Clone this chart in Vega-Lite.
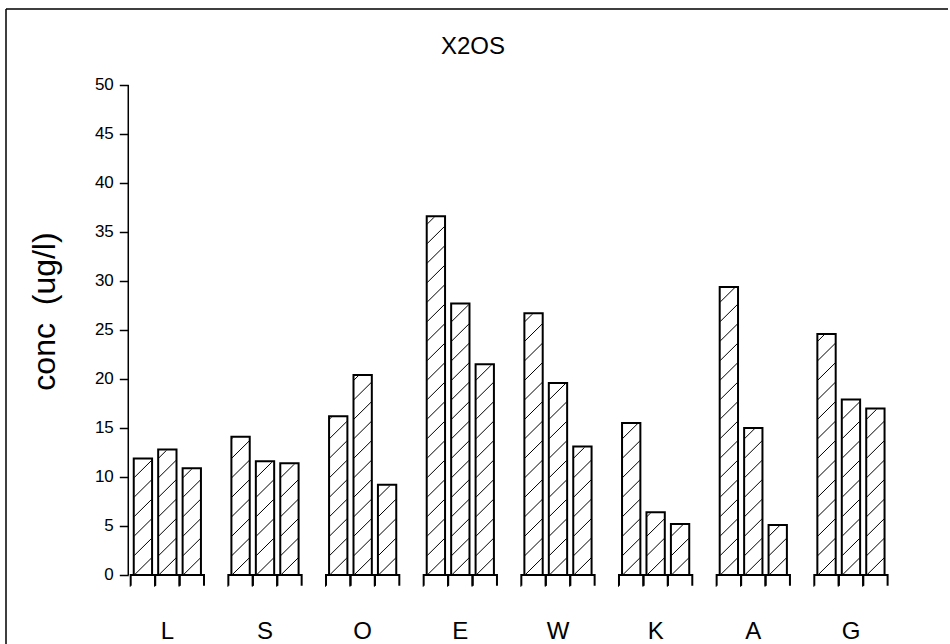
{
  "$schema": "https://vega.github.io/schema/vega-lite/v6.json",
  "width": 942,
  "height": 636,
  "autosize": {"type": "none"},
  "padding": {"left": 6, "top": 9, "right": 2, "bottom": 0},
  "background": "white",
  "title": {"text": "X2OS", "fontSize": 24, "font": "Liberation Sans", "fontWeight": "normal", "color": "black", "anchor": "middle", "frame": "group", "offset": -23, "baseline": "alphabetic", "dy": 46, "dx": -4},
  "data": {"values": [
    {"site": "L", "rep": 1, "conc": 11.9}, {"site": "L", "rep": 2, "conc": 12.8}, {"site": "L", "rep": 3, "conc": 10.9},
    {"site": "S", "rep": 1, "conc": 14.1}, {"site": "S", "rep": 2, "conc": 11.6}, {"site": "S", "rep": 3, "conc": 11.4},
    {"site": "O", "rep": 1, "conc": 16.2}, {"site": "O", "rep": 2, "conc": 20.4}, {"site": "O", "rep": 3, "conc": 9.2},
    {"site": "E", "rep": 1, "conc": 36.6}, {"site": "E", "rep": 2, "conc": 27.7}, {"site": "E", "rep": 3, "conc": 21.5},
    {"site": "W", "rep": 1, "conc": 26.7}, {"site": "W", "rep": 2, "conc": 19.6}, {"site": "W", "rep": 3, "conc": 13.1},
    {"site": "K", "rep": 1, "conc": 15.5}, {"site": "K", "rep": 2, "conc": 6.4}, {"site": "K", "rep": 3, "conc": 5.2},
    {"site": "A", "rep": 1, "conc": 29.4}, {"site": "A", "rep": 2, "conc": 15.0}, {"site": "A", "rep": 3, "conc": 5.1},
    {"site": "G", "rep": 1, "conc": 24.6}, {"site": "G", "rep": 2, "conc": 17.9}, {"site": "G", "rep": 3, "conc": 17.0}
  ]},
  "resolve": {"scale": {"xOffset": "independent"}},
  "layer": [
    {
      "mark": {"type": "point", "shape": "M-8.6,0L8.6,-17M-8.6,-19.5L8.6,-36.5M-8.6,-39L8.6,-56M-8.6,-58.5L8.6,-75.5M-8.6,-78L8.6,-95M-8.6,-97.5L8.6,-114.5M-8.6,-117L8.6,-134M-8.6,-136.5L8.6,-153.5M-8.6,-156L8.6,-173M-8.6,-175.5L8.6,-192.5M-8.6,-195L8.6,-212M-8.6,-214.5L8.6,-231.5M-8.6,-234L8.6,-251M-8.6,-253.5L8.6,-270.5M-8.6,-273L8.6,-290M-8.6,-292.5L8.6,-309.5M-8.6,-312L8.6,-329M-8.6,-331.5L8.6,-348.5M-8.6,-351L8.6,-368M-8.6,-370.5L8.6,-387.5", "size": 4, "filled": false, "stroke": "black", "strokeWidth": 1, "opacity": 1},
      "encoding": {
        "x": {"field": "site", "type": "nominal", "sort": ["L", "S", "O", "E", "W", "K", "A", "G"], "title": null,
              "scale": {"paddingInner": 0.2494, "paddingOuter": 0.9476, "align": 0.6737},
              "axis": {"domain": false, "ticks": false, "tickSize": 0, "labelPadding": 0, "offset": -7, "labelFontSize": 24, "labelColor": "black", "labelBaseline": "alphabetic", "labelAngle": 0, "grid": false, "labelFont": "Liberation Sans"}},
        "xOffset": {"field": "rep", "type": "nominal", "scale": {"type": "band", "paddingInner": 0.25, "paddingOuter": 0.125}},
        "y": {"datum": 0, "type": "quantitative", "title": "conc\u00a0\u00a0(ug/l)",
              "scale": {"domain": [-7.143, 57.755], "nice": false, "zero": false},
              "axis": {"values": [0, 5, 10, 15, 20, 25, 30, 35, 40, 45, 50], "offset": -122.3, "domain": false, "grid": false, "tickSize": 9, "tickWidth": 1.5, "tickColor": "black", "labelFontSize": 17, "labelColor": "black", "labelPadding": 6, "labelFont": "Liberation Sans", "titleFont": "Liberation Sans", "titleFontSize": 32, "titleFontWeight": "normal", "titleColor": "black", "titleX": -84, "titleY": 302, "titleAngle": -90, "titleBaseline": "middle", "titleAlign": "center"}}
      }
    },
    {
      "mark": {"type": "bar", "fill": "white", "stroke": "white", "strokeWidth": 2},
      "encoding": {
        "x": {"field": "site", "type": "nominal", "sort": ["L", "S", "O", "E", "W", "K", "A", "G"], "title": null},
        "xOffset": {"field": "rep", "type": "nominal", "scale": {"type": "band", "paddingInner": 0.25, "paddingOuter": 0.125}},
        "y": {"field": "conc", "type": "quantitative", "title": "conc\u00a0\u00a0(ug/l)"},
        "y2": {"datum": 45}
      }
    },
    {
      "mark": {"type": "bar", "fill": "transparent", "stroke": "black", "strokeWidth": 2, "strokeDash": [35.2, 24.43, 10.78, 0]},
      "encoding": {
        "x": {"field": "site", "type": "nominal", "sort": ["L", "S", "O", "E", "W", "K", "A", "G"], "title": null},
        "xOffset": {"field": "rep", "type": "nominal", "scale": {"type": "band", "paddingInner": 0, "paddingOuter": 0}},
        "y": {"datum": 0, "type": "quantitative", "title": "conc\u00a0\u00a0(ug/l)"},
        "y2": {"datum": -1.1}
      }
    },
    {
      "mark": {"type": "bar", "fill": "transparent", "stroke": "black", "strokeWidth": 2},
      "encoding": {
        "x": {"field": "site", "type": "nominal", "sort": ["L", "S", "O", "E", "W", "K", "A", "G"], "title": null},
        "xOffset": {"field": "rep", "type": "nominal", "scale": {"type": "band", "paddingInner": 0.25, "paddingOuter": 0.125}},
        "y": {"field": "conc", "type": "quantitative", "title": "conc\u00a0\u00a0(ug/l)"},
        "y2": {"datum": 0}
      }
    },
    {
      "transform": [{"filter": "datum.site == 'L' && datum.rep == 1"}],
      "mark": {"type": "rule", "stroke": "black", "strokeWidth": 1.5},
      "encoding": {
        "x": {"field": "site", "type": "nominal", "sort": ["L", "S", "O", "E", "W", "K", "A", "G"], "title": null, "bandPosition": -0.033},
        "y": {"datum": 0, "type": "quantitative", "title": "conc\u00a0\u00a0(ug/l)"},
        "y2": {"datum": 50}
      }
    }
  ],
  "config": {
    "font": "Liberation Sans",
    "view": {"stroke": "black", "strokeWidth": 1.5, "strokeDash": [942, 1578, 636, 0]}
  }
}
